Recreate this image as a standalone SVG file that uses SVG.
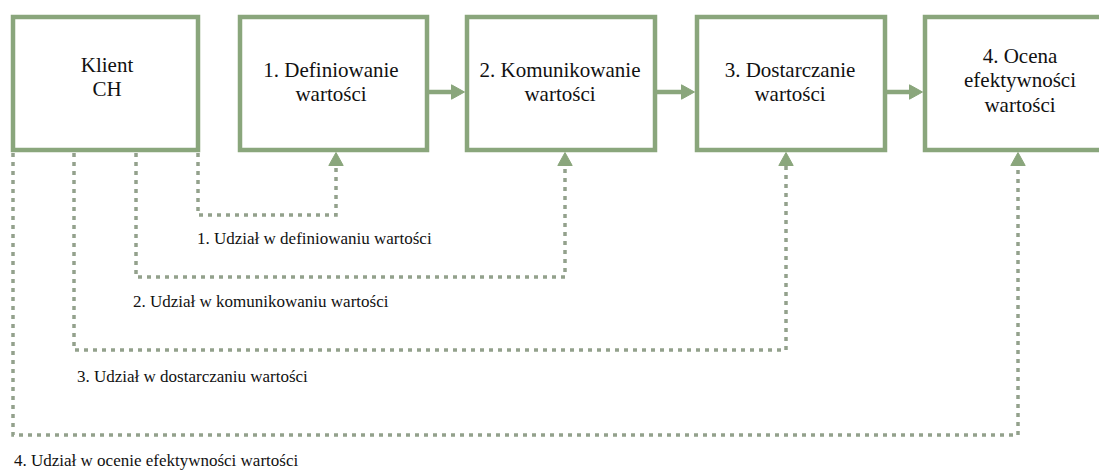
<svg xmlns="http://www.w3.org/2000/svg" width="1099" height="472" viewBox="0 0 1099 472">
<style>
.box{fill:#ffffff;stroke:#8aa67c;stroke-width:4.5}
.t{font-family:'Liberation Serif','DejaVu Serif',serif;font-size:21px;fill:#111;text-anchor:middle}
.lbl{font-family:'Liberation Serif','DejaVu Serif',serif;font-size:17px;fill:#111}
.solid{fill:none;stroke:#8aa67c;stroke-width:4.5}
.dot{fill:none;stroke:#93a18c;stroke-width:3.5;stroke-dasharray:4 5}
</style>
<defs>
<marker id="ah" viewBox="0 0 14 16" refX="0" refY="8" markerWidth="14" markerHeight="16" markerUnits="userSpaceOnUse" orient="auto">
<path d="M0.5,0.8 L13.5,8 L0.5,15.2 Z" fill="#8aa67c" stroke="#8aa67c" stroke-width="1" stroke-linejoin="round"/>
</marker>
</defs>
<rect width="1099" height="472" fill="#ffffff"/>
<g id="klient">
<rect class="box" x="13" y="17" width="185" height="133"/>
<text class="t" x="107" y="72">Klient</text>
<text class="t" x="107" y="96">CH</text>
</g>
<g id="definiowanie">
<rect class="box" x="240" y="17" width="187" height="133"/>
<text class="t" x="331" y="77">1. Definiowanie</text>
<text class="t" x="331" y="101">wartości</text>
</g>
<g id="komunikowanie">
<rect class="box" x="467" y="17" width="188" height="133"/>
<text class="t" x="560" y="77">2. Komunikowanie</text>
<text class="t" x="560" y="101">wartości</text>
</g>
<g id="dostarczanie">
<rect class="box" x="697" y="17" width="188" height="133"/>
<text class="t" x="790" y="77">3. Dostarczanie</text>
<text class="t" x="790" y="101">wartości</text>
</g>
<g id="ocena">
<rect class="box" x="925" y="17" width="200" height="133"/>
<text class="t" x="1020" y="63">4. Ocena</text>
<text class="t" x="1020" y="87">efektywności</text>
<text class="t" x="1020" y="112">wartości</text>
</g>
<g id="connectors">
<path class="solid" d="M429,92 H451" marker-end="url(#ah)"/>
<path class="solid" d="M657,92 H681" marker-end="url(#ah)"/>
<path class="solid" d="M887,92 H909" marker-end="url(#ah)"/>
<path class="dot" d="M198,153 V215 H336 V166" marker-end="url(#ah)"/>
<path class="dot" d="M136,153 V277 H565 V166" marker-end="url(#ah)"/>
<path class="dot" d="M74,153 V350 H786 V166" marker-end="url(#ah)"/>
<path class="dot" d="M13,153 V435 H1018 V166" marker-end="url(#ah)"/>
</g>
<g id="labels">
<text class="lbl" x="197" y="244">1. Udział w definiowaniu wartości</text>
<text class="lbl" x="133" y="307">2. Udział w komunikowaniu wartości</text>
<text class="lbl" x="77" y="382">3. Udział w dostarczaniu wartości</text>
<text class="lbl" x="14" y="466">4. Udział w ocenie efektywności wartości</text>
</g>
</svg>
